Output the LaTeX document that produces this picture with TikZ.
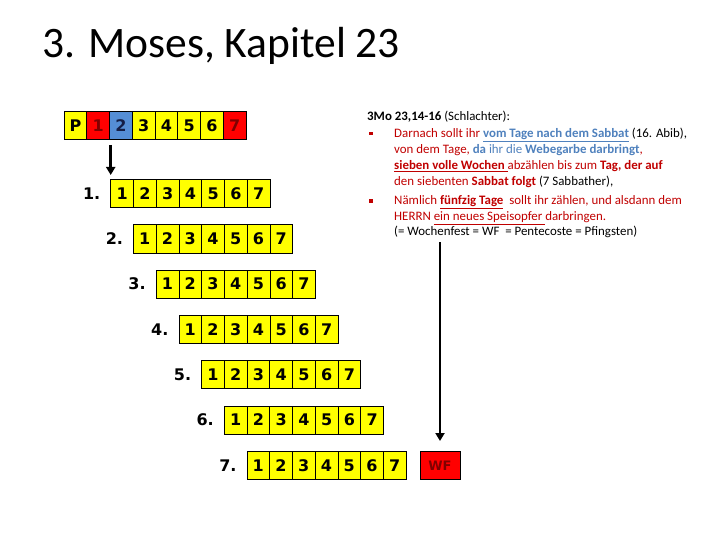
\documentclass[tikz,border=0pt]{standalone}
\usepackage{fontspec}
\setmainfont{Carlito}
\newfontfamily\cellfont{DejaVu Sans}
\usetikzlibrary{arrows.meta}
\definecolor{cy}{RGB}{255,255,0}
\definecolor{cr}{RGB}{255,0,0}
\definecolor{cb}{RGB}{85,142,213}
\definecolor{dred}{RGB}{128,0,0}
\definecolor{dnavy}{RGB}{20,30,70}
\definecolor{tred}{RGB}{192,0,0}
\definecolor{tblue}{RGB}{79,129,189}
\tikzset{
  cell/.style={draw=black, line width=0.6pt, fill=cy, minimum width=22.75pt, minimum height=28pt,
    inner sep=0pt, text height=11.6pt, text depth=0pt, font=\cellfont\bfseries\fontsize{16}{16}\selectfont},
  rowlabel/.style={font=\cellfont\bfseries\fontsize{16}{16}\selectfont, inner sep=0pt, text height=11.6pt, text depth=0pt},
  txt/.style={anchor=base west, inner sep=0pt, font=\fontsize{12.9}{14}\selectfont},
  bul/.style={fill=tred, minimum size=3.2pt, inner sep=0pt},
  bigarrow/.style={line width=2.6pt, -{Triangle[length=8pt,width=9pt]}},
}
\begin{document}
\begin{tikzpicture}[x=1pt,y=-1pt]
\useasboundingbox (0,0) rectangle (720,540);
% title
\node[anchor=base west, inner sep=0pt, font=\fontsize{43.5}{43.5}\selectfont] (title) at (42,57.7) {3. Moses, Kapitel 23};
% row 0
\foreach \t [count=\j] in {P,1,2,3,4,5,6,7}{
  \node[cell] (r0c\j) at ({64+(\j-0.5)*22.75},125.5) {\t};
}
\node[cell, fill=cr, text=dred] at (r0c2) {1};
\node[cell, fill=cb, text=dnavy] at (r0c3) {2};
\node[cell, fill=cr, text=dred] at (r0c8) {7};
% rows 1..7
\foreach \k in {1,...,7}{
  \pgfmathsetmacro{\lx}{110.7+22.7*(\k-1)}
  \pgfmathsetmacro{\cy}{193.5+45.3*(\k-1)}
  \node[rowlabel] (lab\k) at ({\lx-19},\cy) {\k.};
  \foreach \j in {1,...,7}{
    \node[cell] (r\k c\j) at ({\lx+(\j-0.5)*22.75},\cy) {\j};
  }
}
% WF box
\node[cell, fill=cr, text=dred, minimum width=40pt, text height=9.5pt, font=\cellfont\bfseries\fontsize{13}{13}\selectfont] (wf) at (440,465.5) {WF};
% arrows
\coordinate (a1s) at (110.7,145);
\coordinate (a1e) at (110.7,175);
\draw[bigarrow] (a1s) -- (a1e);
\coordinate (a2s) at (440,242);
\coordinate (a2e) at (440,441);
\draw[bigarrow] (a2s) -- (a2e);
% text block
\node[txt] (t0) at (367,121) {\textbf{3Mo 23,14-16} (Schlachter):};
\node[bul] (b1) at (371,133.5) {};
\node[txt, text=tred] (t1) at (394,137.5) {Darnach sollt ihr \textcolor{tblue}{\textbf{\underline{vom Tage nach dem Sabbat}}} \textcolor{black}{(16. Abib),}};
\node[txt, text=tred] (t2) at (394,153.5) {von dem Tage, \textcolor{tblue}{\textbf{da} ihr die \textbf{Webegarbe darbringt}},};
\node[txt, text=tred] (t3) at (394,170) {\textbf{\underline{sieben volle Wochen }}abzählen bis zum \textbf{Tag, der auf}};
\node[txt, text=tred] (t4) at (394,186) {den siebenten \textbf{Sabbat folgt} \textcolor{black}{(7 Sabbather),}};
\node[bul] (b2) at (371,201) {};
\node[txt, text=tred] (t5) at (394,205) {Nämlich \textbf{\underline{fünfzig Tage}}\ \ sollt ihr zählen, und alsdann dem};
\node[txt, text=tred] (t6) at (394,220.5) {HERRN \underline{ein neues Speisopfer }darbringen.};
\node[txt] (t7) at (394,236) {(= Wochenfest = WF\ \ = Pentecoste = Pfingsten)};
\end{tikzpicture}
\end{document}
